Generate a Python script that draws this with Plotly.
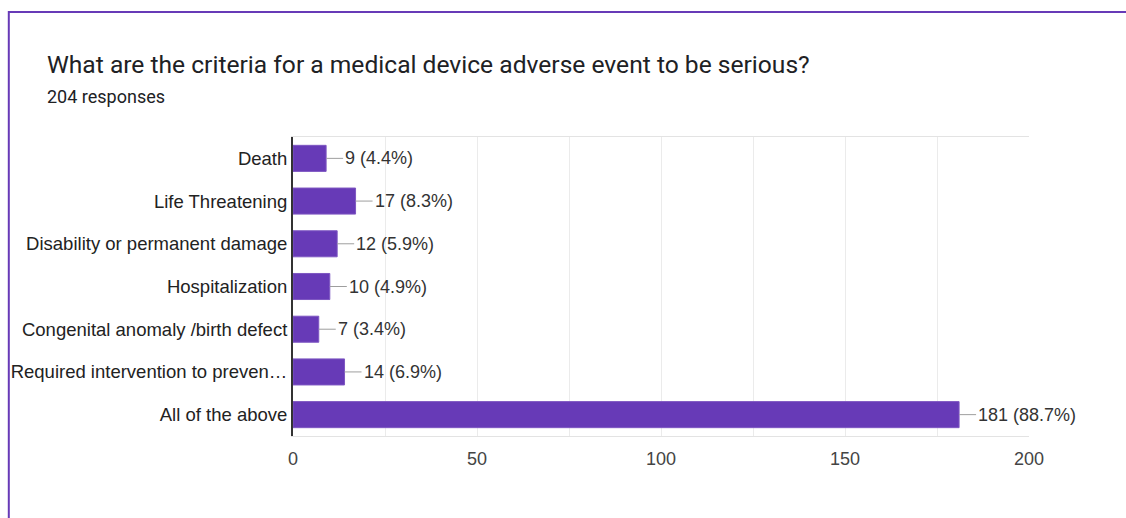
import plotly.graph_objects as go

categories = ["Death", "Life Threatening", "Disability or permanent damage", "Hospitalization",
              "Congenital anomaly /birth defect", "Required intervention to preven\u2026", "All of the above"]
counts = [9, 17, 12, 10, 7, 14, 181]
total_responses = 204
title_text = "What are the criteria for a medical device adverse event to be serious?"
subtitle_text = f"{total_responses} responses"
x_ticks = [0, 50, 100, 150, 200]

W, H = 1126, 518
L, R, T, B = 293, 97, 137, 82
PW, PH = W - L - R, H - T - B

def px_x(px):
    return (px - L) / PW

def px_y(py):
    return (H - B - py) / PH

PURPLE = "#673ab7"
SANS = "Liberation Sans, Arial, sans-serif"

fig = go.Figure(go.Bar(
    x=counts, y=categories, orientation="h",
    marker=dict(color=PURPLE, line=dict(color="#7e57c2", width=1)),
    hoverinfo="skip",
))

annotations = []
for c, v in zip(categories, counts):
    pct = v / total_responses * 100
    annotations.append(dict(
        x=v, y=c, xref="x", yref="y", text=f"{v} ({pct:.1f}%)",
        showarrow=True, arrowhead=0, arrowwidth=1, arrowcolor="#9e9e9e",
        ax=17, ay=0, xanchor="left", yanchor="middle", standoff=0,
        font=dict(family=SANS, size=18, color="#333333"),
    ))

annotations.append(dict(x=px_x(45), y=px_y(65), xref="paper", yref="paper", text=title_text,
                        showarrow=False, xanchor="left", yanchor="middle",
                        font=dict(family="Roboto, sans-serif", size=24.6, color="#202124")))
annotations.append(dict(x=px_x(45), y=px_y(96), xref="paper", yref="paper", text=subtitle_text,
                        showarrow=False, xanchor="left", yanchor="middle",
                        font=dict(family="Roboto, sans-serif", size=18, color="#202124")))

fig.update_layout(
    width=W, height=H,
    margin=dict(l=L, r=R, t=T, b=B, pad=0),
    paper_bgcolor="white", plot_bgcolor="white",
    showlegend=False, bargap=0.39,
    annotations=annotations,
    shapes=[dict(type="rect", xref="paper", yref="paper",
                 x0=px_x(8.8), x1=px_x(1140), y0=px_y(540), y1=px_y(12),
                 line=dict(color=PURPLE, width=2), fillcolor="rgba(0,0,0,0)", layer="above")],
    xaxis=dict(range=[0, 200], tickvals=x_ticks, ticktext=[str(t) for t in x_ticks],
               showgrid=True, gridcolor="#ebebeb", gridwidth=1,
               minor=dict(dtick=25, showgrid=True, gridcolor="#ebebeb", gridwidth=1),
               showline=True, linecolor="#e3e3e3", linewidth=1, mirror=True,
               zeroline=False, ticks="", ticklabelstandoff=6,
               tickfont=dict(family=SANS, size=18, color="#444444")),
    yaxis=dict(autorange="reversed", showgrid=False, zeroline=False,
               showline=True, linecolor="#333333", linewidth=2, ticks="",
               ticklabelstandoff=0,
               tickfont=dict(family=SANS, size=18.5, color="#222222")),
)

fig.write_html("out.html")
